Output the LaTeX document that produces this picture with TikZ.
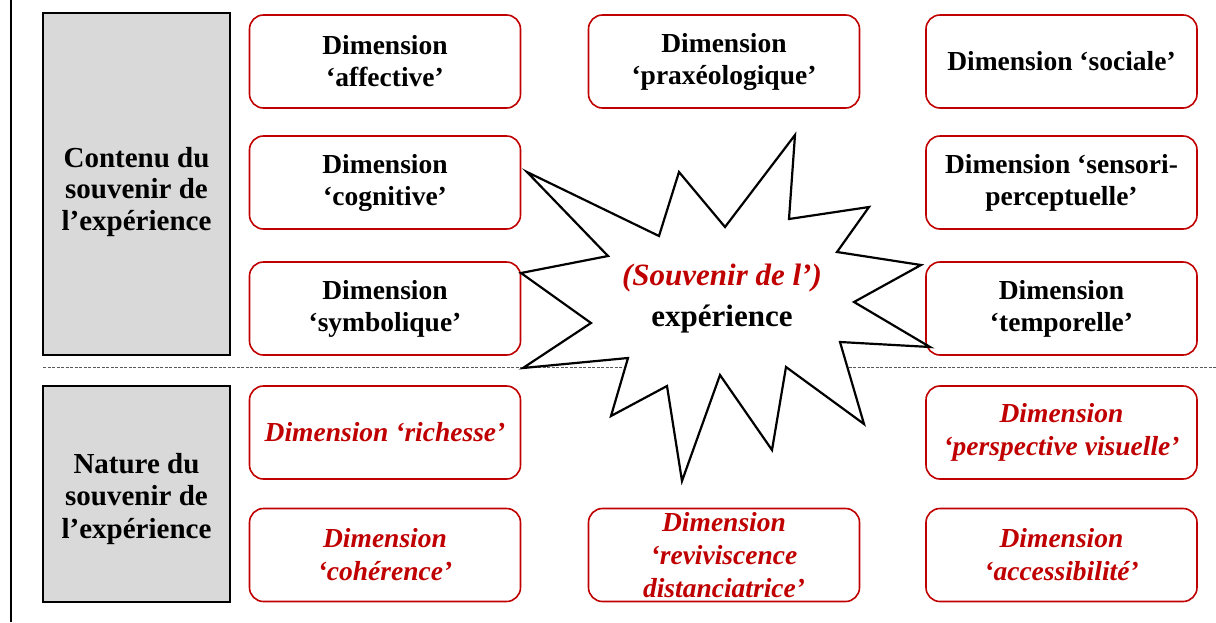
\documentclass[tikz,border=0pt]{standalone}
\usepackage{fontspec}
\setmainfont{Liberation Serif}
\definecolor{dred}{RGB}{192,0,0}
\definecolor{gfill}{RGB}{217,217,217}
\definecolor{dashgray}{RGB}{90,90,90}
\tikzset{
  dimbox/.style={draw=dred, line width=1.6pt, rounded corners=14pt, fill=white,
    minimum width=271pt, minimum height=93pt, inner sep=0pt, align=center,
    font=\fontsize{27.5}{32}\selectfont\bfseries},
  natbox/.style={dimbox, text=dred, font=\fontsize{27.5}{33}\selectfont\bfseries\itshape},
  graybox/.style={draw=black, line width=1.6pt, fill=gfill, minimum width=187pt,
    inner sep=0pt, align=center, font=\fontsize{29}{31.5}\selectfont\bfseries},
  starshape/.style={draw=black, line width=2.2pt, fill=white, line join=miter},
  sep/.style={draw=dashgray, line width=0.8pt, dash pattern=on 3pt off 1.5pt},
  startext/.style={align=center, inner sep=0pt, font=\fontsize{31}{41}\selectfont\bfseries},
}
\begin{document}
\begin{tikzpicture}[x=1pt,y=-1pt]
\useasboundingbox (0,0) rectangle (1216,622);
% left border line
\coordinate (lt) at (11,0);
\coordinate (lb) at (11,622);
\draw[line width=2pt] (lt) -- (lb);
% separator
\coordinate (sl) at (43,367);
\coordinate (sr) at (1216,367);
\draw[sep] (sl) -- (sr);
% gray category boxes
\node[graybox, minimum height=342pt] (contenu) at (136.5,184) {};
\node[align=center, inner sep=0pt, font=\fontsize{29}{31.5}\selectfont\bfseries] (contenutxt) at (136.5,192) {Contenu du\\souvenir de\\l’expérience};
\node[graybox, minimum height=216pt] (nature) at (136.5,494) {};
\node[align=center, inner sep=0pt, font=\fontsize{29}{32.5}\selectfont\bfseries] (naturetxt) at (136.5,499) {Nature du\\souvenir de\\l’expérience};
% content dimensions
\node[dimbox] (affective) at (385,61.5) {Dimension\\‘affective’};
\node[dimbox] (praxeo) at (724,61.5) {Dimension\\‘praxéologique’};
\node[dimbox] (sociale) at (1061.5,61.5) {Dimension ‘sociale’};
\node[dimbox] (cognitive) at (385,182.5) {Dimension\\‘cognitive’};
\node[dimbox] (sensori) at (1061.5,182.5) {Dimension ‘sensori-\\perceptuelle’};
\node[dimbox] (symbolique) at (385,308.5) {Dimension\\‘symbolique’};
\node[dimbox] (temporelle) at (1061.5,308.5) {Dimension\\‘temporelle’};
% nature dimensions
\node[natbox] (richesse) at (385,432.5) {Dimension ‘richesse’};
\node[natbox] (perspective) at (1061.5,432.5) {Dimension\\‘perspective visuelle’};
\node[natbox] (coherence) at (385,555) {Dimension\\‘cohérence’};
\node[natbox] (revivis) at (724,555) {Dimension\\‘reviviscence\\distanciatrice’};
\node[natbox] (access) at (1061.5,555) {Dimension\\‘accessibilité’};
% star
\draw[starshape] (527,172) -- (659,236) -- (679,172) -- (725,227) -- (795,135) -- (789,219)
  -- (869,207) -- (837,252) -- (921,265) -- (854,302) -- (930,347) -- (840,342)
  -- (864,424) -- (786,367) -- (772,450) -- (720,375) -- (682,481) -- (667,386)
  -- (611,416) -- (628,358) -- (523,368) -- (591,323) -- (521,273) -- (608,256) -- cycle;
\node[startext] (experience) at (722,299)
  {\textcolor{dred}{\itshape (Souvenir de l’)}\\expérience};
\end{tikzpicture}
\end{document}
